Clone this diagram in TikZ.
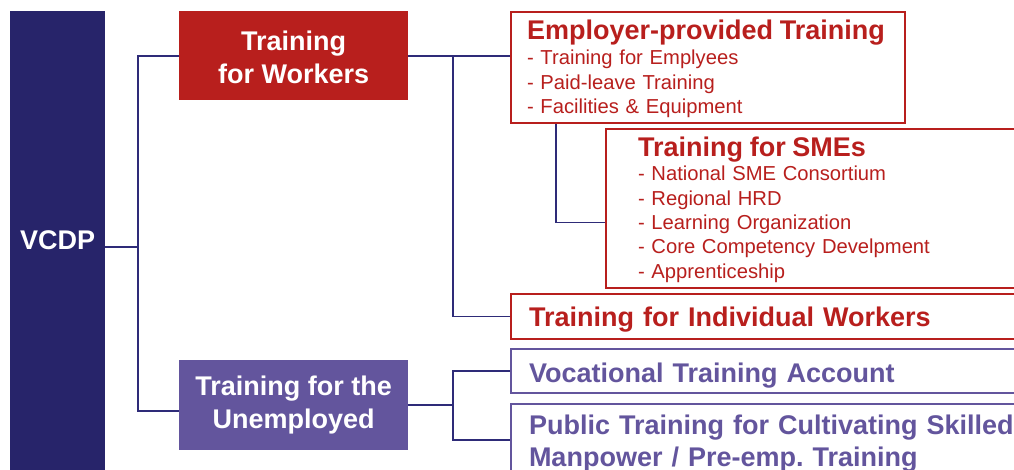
\documentclass[tikz,border=0pt]{standalone}
\usepackage{fontspec}
\setmainfont{Liberation Sans}
\usepackage{xcolor}
\usetikzlibrary{positioning}

\definecolor{vcdpnavy}{HTML}{27246A}
\definecolor{workred}{HTML}{B81F1D}
\definecolor{unempviolet}{HTML}{63559D}
\definecolor{linknavy}{HTML}{2E2B78}

\newcommand{\headfont}{\fontsize{27}{29}\selectfont\bfseries}
\newcommand{\branchfont}{\fontsize{27}{33}\selectfont\bfseries}
\newcommand{\itemfont}{\fontsize{20.2}{24.3}\selectfont}

\tikzset{
  branch/.style={anchor=north west, minimum width=229pt, minimum height=89pt,
    inner sep=0pt, text=white, align=center, font=\branchfont},
  leaf/.style={anchor=north west, draw=#1, text=#1, line width=2pt, fill=white,
    text width=520pt, inner xsep=18pt, inner ysep=0pt, align=left, font=\itemfont,
    text height=20pt},
  link/.style={draw=linknavy, line width=1.9pt},
}

\begin{document}
\begin{tikzpicture}[x=1pt, y=-1pt]
  \useasboundingbox (0,0) rectangle (1014,470);
  \clip (0,0) rectangle (1014,470);

  % programme and its two branches
  \node[fill=vcdpnavy, anchor=north west, minimum width=95pt, minimum height=459pt,
    inner sep=0pt, text=white, font=\headfont] (vcdp) at (10,11) {VCDP};
  \node[branch, fill=workred, text height=55pt, text depth=0pt] (workers) at (179,11) {Training\\for Workers};
  \node[branch, fill=unempviolet, minimum height=90pt] (unemp) at (179,360) {Training for the\\Unemployed};

  % workers side (text depth puts the first baseline)
  \node[leaf=workred, text width=362pt, inner xsep=16pt, minimum height=111pt,
    text depth=75pt] (employer) at (510,11)
    {{\headfont Employer-provided Training}\\[0.7pt]
     - Training for Emplyees\\
     - Paid-leave Training\\
     - Facilities \& Equipment};
  \node[leaf=workred, inner xsep=32pt, minimum height=159pt, text depth=123.6pt] (sme) at (605,128)
    {{\headfont Training for SMEs}\\
     - National SME Consortium\\
     - Regional HRD\\
     - Learning Organization\\
     - Core Competency Develpment\\
     - Apprenticeship};
  \node[leaf=workred, font=\headfont, minimum height=45pt, text depth=1pt] (indiv) at (510,293)
    {Training for Individual Workers};

  % unemployed side
  \node[leaf=unempviolet, font=\headfont, minimum height=44pt, text height=22pt, text depth=0pt] (voc) at (510,348)
    {Vocational Training Account};
  \node[leaf=unempviolet, font=\headfont, minimum height=72pt, text depth=31.4pt] (public) at (510,403)
    {Public Training for Cultivating Skilled\\[3pt]Manpower / Pre-emp.\ Training};

  % tree lines
  \coordinate (trunk) at (138,247);
  \coordinate (wsplit) at (453,56);
  \coordinate (usplit) at (453,405);
  \draw[link] (vcdp.east |- trunk) -- (trunk);
  \draw[link] (workers.west) -| (trunk) |- ([yshift=-6pt]unemp.west);
  \draw[link] (workers.east) -- (workers.east -| employer.west);
  \draw[link] (wsplit) |- (indiv.west);
  \draw[link] ([xshift=46pt]employer.south west) |- ([yshift=-14pt]sme.west);
  \draw[link] (unemp.east) -- (unemp.east -| usplit);
  \draw[link] (voc.west) -| (usplit) |- (public.west);
\end{tikzpicture}
\end{document}
